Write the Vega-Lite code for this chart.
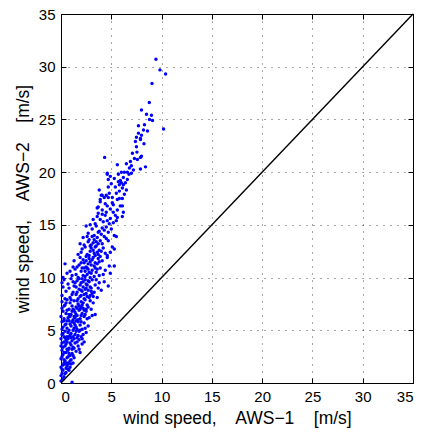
{
  "$schema": "https://vega.github.io/schema/vega-lite/v6.json",
  "autosize": {"type": "none"},
  "padding": {"left": 61, "top": 14, "right": 11, "bottom": 52},
  "width": 352,
  "height": 369,
  "background": "white",
  "config": {
    "view": {"stroke": "black", "strokeWidth": 1},
    "axis": {
      "labelFont": "Liberation Sans",
      "titleFont": "Liberation Sans",
      "labelFontSize": 15,
      "titleFontSize": 17.5,
      "titleFontWeight": "normal",
      "labelColor": "black",
      "titleColor": "black",
      "domainColor": "black",
      "tickColor": "black",
      "gridColor": "black",
      "gridDash": [1, 6],
      "gridOpacity": 0.7,
      "tickSize": -5,
      "labelPadding": 11
    }
  },
  "datasets": {
    "pts": [
      {"x":9.44,"y":30.7},{"x":9.84,"y":29.7},{"x":10.4,"y":29.3},{"x":9.05,"y":28.4},{"x":8.78,"y":26.6},{"x":8.0,"y":25.9},{"x":8.5,"y":25.5},{"x":9.0,"y":25.4},{"x":9.1,"y":24.9},{"x":7.7,"y":24.4},{"x":8.3,"y":24.5},{"x":10.2,"y":24.1},{"x":8.6,"y":23.9},{"x":7.7,"y":23.7},{"x":8.0,"y":23.5},{"x":7.5,"y":23.3},{"x":7.9,"y":23.2},{"x":7.9,"y":23.1},{"x":8.25,"y":22.7},{"x":7.5,"y":22.4},{"x":7.55,"y":21.9},{"x":4.34,"y":21.4},{"x":8.0,"y":21.5},{"x":7.3,"y":21.3},{"x":7.6,"y":21.2},{"x":7.9,"y":21.4},{"x":5.6,"y":20.7},{"x":7.0,"y":20.6},{"x":6.8,"y":20.4},{"x":8.4,"y":20.5},{"x":7.9,"y":20.3},{"x":7.2,"y":20.2},{"x":6.0,"y":20.0},{"x":6.3,"y":20.0},{"x":6.6,"y":20.0},{"x":5.7,"y":19.8},{"x":4.6,"y":19.8},{"x":6.76,"y":19.8},{"x":6.2,"y":19.5},{"x":5.9,"y":19.2},{"x":6.0,"y":19.0},{"x":6.4,"y":19.0},{"x":4.7,"y":19.3},{"x":5.4,"y":18.6},{"x":4.7,"y":18.6},{"x":6.1,"y":18.5},{"x":5.8,"y":18.2},{"x":6.5,"y":18.3},{"x":6.3,"y":17.9},{"x":4.1,"y":17.8},{"x":4.5,"y":17.8},{"x":4.7,"y":17.6},{"x":5.1,"y":17.6},{"x":6.1,"y":17.5},{"x":5.8,"y":17.5},{"x":5.6,"y":17.4},{"x":3.9,"y":17.4},{"x":6.1,"y":16.8},{"x":5.9,"y":16.8},{"x":4.6,"y":16.8},{"x":5.2,"y":16.2},{"x":5.4,"y":15.9},{"x":6.2,"y":16.2},{"x":4.5,"y":16.2},{"x":4.1,"y":16.0},{"x":4.6,"y":19.9},{"x":3.8,"y":18.3},{"x":4.0,"y":17.8},{"x":4.3,"y":17.6},{"x":3.9,"y":17.2},{"x":3.7,"y":16.7},{"x":4.1,"y":16.4},{"x":3.7,"y":16.1},{"x":4.8,"y":18.0},{"x":3.6,"y":16.6},
      {"x":4.9,"y":16.5},{"x":5.1,"y":17.1},{"x":5.6,"y":16.4},{"x":5.0,"y":18.9},{"x":5.3,"y":19.4},{"x":5.8,"y":18.8},{"x":6.2,"y":18.8},{"x":4.4,"y":17.0},{"x":5.5,"y":18.0},{"x":4.9,"y":19.6},{"x":6.6,"y":19.3},{"x":7.0,"y":19.9},{"x":5.2,"y":16.9},{"x":5.7,"y":19.1},{"x":6.9,"y":21.0},{"x":7.1,"y":21.8},{"x":6.5,"y":20.8},{"x":7.4,"y":22.9},{"x":8.2,"y":24.0},{"x":8.8,"y":25.0},
      {"x":2.7,"y":14.2},{"x":3.1,"y":14.6},{"x":3.4,"y":15.1},{"x":3.8,"y":14.4},{"x":4.2,"y":15.3},{"x":4.5,"y":14.8},{"x":4.9,"y":15.6},{"x":5.2,"y":15.2},{"x":5.6,"y":15.7},{"x":3.6,"y":15.8},{"x":4.0,"y":14.1},{"x":4.4,"y":15.9},{"x":2.9,"y":15.0},{"x":3.3,"y":14.0},{"x":4.7,"y":14.3},{"x":5.0,"y":14.6},{"x":3.9,"y":15.5},{"x":4.3,"y":14.5},{"x":5.5,"y":15.4},{"x":6.1,"y":15.8},{"x":3.5,"y":14.9},{"x":4.1,"y":14.7},{"x":2.5,"y":14.9},{"x":4.8,"y":15.1},{"x":3.7,"y":14.3},{"x":5.3,"y":14.0},{"x":4.6,"y":15.4},{"x":3.2,"y":15.5},
      {"x":2.0,"y":12.4},{"x":2.3,"y":13.1},{"x":2.6,"y":12.2},{"x":2.8,"y":13.6},{"x":3.0,"y":12.8},{"x":3.2,"y":13.3},{"x":3.4,"y":12.1},{"x":3.6,"y":13.8},{"x":3.8,"y":12.6},{"x":4.1,"y":13.2},{"x":4.4,"y":12.3},{"x":4.7,"y":13.5},{"x":5.1,"y":12.9},{"x":5.5,"y":13.9},{"x":2.4,"y":12.9},{"x":2.7,"y":13.4},{"x":2.9,"y":12.5},{"x":3.1,"y":13.9},{"x":3.3,"y":12.3},{"x":3.5,"y":13.0},{"x":3.7,"y":12.2},{"x":3.9,"y":13.5},{"x":4.2,"y":12.8},{"x":4.5,"y":13.7},{"x":2.2,"y":13.8},{"x":2.5,"y":12.0},{"x":3.0,"y":13.1},{"x":3.3,"y":13.6},{"x":3.6,"y":12.4},{"x":2.8,"y":12.1},{"x":3.9,"y":12.0},{"x":4.3,"y":13.9},{"x":4.9,"y":12.4},{"x":1.9,"y":13.2},{"x":2.6,"y":13.9},{"x":3.2,"y":12.6},{"x":3.5,"y":13.4},{"x":2.9,"y":13.0},{"x":4.0,"y":12.5},{"x":2.1,"y":12.7},{"x":3.7,"y":13.2},{"x":4.6,"y":12.1},{"x":5.3,"y":12.7},{"x":1.7,"y":12.2},{"x":3.4,"y":12.9},
      {"x":1.5,"y":10.3},{"x":1.8,"y":11.2},{"x":2.0,"y":10.6},{"x":2.2,"y":11.7},{"x":2.4,"y":10.1},{"x":2.5,"y":11.0},{"x":2.7,"y":10.8},{"x":2.9,"y":11.5},{"x":3.0,"y":10.4},{"x":3.2,"y":11.9},{"x":3.4,"y":10.9},{"x":3.6,"y":11.3},{"x":3.8,"y":10.2},{"x":4.1,"y":11.6},{"x":4.4,"y":10.7},{"x":4.8,"y":11.1},{"x":5.3,"y":11.1},{"x":1.3,"y":11.6},{"x":1.7,"y":10.0},{"x":2.1,"y":10.9},{"x":2.3,"y":11.4},{"x":2.6,"y":10.3},{"x":2.8,"y":11.8},{"x":3.1,"y":10.7},{"x":3.3,"y":11.1},{"x":3.5,"y":10.5},{"x":3.7,"y":11.8},{"x":3.9,"y":10.9},{"x":4.2,"y":10.3},{"x":4.6,"y":11.9},{"x":0.2,"y":10.0},{"x":0.4,"y":11.3},{"x":0.9,"y":10.6},{"x":1.1,"y":10.2},{"x":1.6,"y":11.0},{"x":1.9,"y":11.9},{"x":2.2,"y":10.2},{"x":2.5,"y":11.6},{"x":2.8,"y":10.5},{"x":3.0,"y":11.2},{"x":3.3,"y":10.1},{"x":3.6,"y":10.8},{"x":2.0,"y":11.4},{"x":2.7,"y":11.3},{"x":3.1,"y":11.7},{"x":2.4,"y":10.6},{"x":1.4,"y":10.8},{"x":3.8,"y":11.5},{"x":4.9,"y":10.4},{"x":2.9,"y":10.0},{"x":2.3,"y":10.9},{"x":1.2,"y":11.0},{"x":3.4,"y":11.4},{"x":2.6,"y":10.9},{"x":0.6,"y":10.4},
      {"x":0.1,"y":8.3},{"x":0.2,"y":9.1},{"x":0.3,"y":9.8},{"x":0.1,"y":9.5},{"x":0.5,"y":8.7},{"x":0.7,"y":9.4},{"x":0.9,"y":8.1},{"x":1.0,"y":9.9},{"x":1.2,"y":8.6},{"x":1.3,"y":9.2},{"x":1.5,"y":8.4},{"x":1.6,"y":9.7},{"x":1.8,"y":8.9},{"x":1.9,"y":8.2},{"x":2.0,"y":9.5},{"x":2.1,"y":8.7},{"x":2.2,"y":9.1},{"x":2.3,"y":8.0},{"x":2.4,"y":9.8},{"x":2.5,"y":8.5},{"x":2.6,"y":9.3},{"x":2.7,"y":8.8},{"x":2.8,"y":9.6},{"x":2.9,"y":8.3},{"x":3.0,"y":9.0},{"x":3.1,"y":9.8},{"x":3.3,"y":8.6},{"x":3.4,"y":9.3},{"x":3.6,"y":8.1},{"x":3.8,"y":9.5},{"x":4.0,"y":8.8},{"x":4.3,"y":9.6},{"x":4.7,"y":9.2},{"x":1.1,"y":8.4},{"x":1.4,"y":9.5},{"x":1.7,"y":8.0},{"x":1.9,"y":9.3},{"x":2.1,"y":9.9},{"x":2.3,"y":8.4},{"x":2.5,"y":9.0},{"x":2.7,"y":9.7},{"x":2.9,"y":9.1},{"x":3.2,"y":8.2},{"x":3.5,"y":9.8},{"x":1.6,"y":8.6},{"x":2.0,"y":8.3},{"x":2.4,"y":8.9},{"x":2.8,"y":8.1},{"x":3.1,"y":8.5},{"x":0.4,"y":8.0},{"x":0.8,"y":9.0},{"x":1.5,"y":9.1},{"x":2.2,"y":9.6},{"x":2.6,"y":8.2},{"x":3.0,"y":8.7},{"x":3.7,"y":9.0},{"x":1.2,"y":9.6},{"x":1.8,"y":9.9},{"x":2.0,"y":8.8},{"x":2.5,"y":9.4},
      {"x":0.0,"y":6.3},{"x":0.1,"y":7.1},{"x":0.2,"y":6.8},{"x":0.1,"y":7.7},{"x":0.3,"y":6.1},{"x":0.4,"y":7.4},{"x":0.5,"y":6.6},{"x":0.6,"y":7.9},{"x":0.7,"y":6.2},{"x":0.8,"y":7.0},{"x":0.9,"y":7.6},{"x":1.0,"y":6.5},{"x":1.1,"y":7.3},{"x":1.2,"y":6.0},{"x":1.3,"y":7.8},{"x":1.4,"y":6.7},{"x":1.5,"y":7.2},{"x":1.6,"y":6.4},{"x":1.7,"y":7.5},{"x":1.8,"y":6.9},{"x":1.9,"y":6.1},{"x":2.0,"y":7.7},{"x":2.1,"y":6.6},{"x":2.2,"y":7.1},{"x":2.3,"y":6.3},{"x":2.4,"y":7.9},{"x":2.5,"y":6.8},{"x":2.6,"y":7.4},{"x":2.8,"y":6.2},{"x":3.0,"y":7.0},{"x":3.2,"y":7.6},{"x":3.4,"y":6.5},{"x":1.0,"y":7.9},{"x":1.2,"y":7.0},{"x":1.4,"y":6.2},{"x":1.6,"y":7.8},{"x":1.8,"y":7.3},{"x":2.0,"y":6.4},{"x":2.2,"y":7.6},{"x":2.4,"y":6.5},{"x":2.7,"y":7.2},{"x":2.9,"y":7.8},{"x":0.6,"y":6.9},{"x":0.9,"y":6.3},{"x":1.3,"y":6.9},{"x":1.7,"y":6.0},{"x":2.1,"y":7.4},{"x":2.5,"y":7.0},{"x":3.1,"y":6.4},{"x":0.3,"y":7.3},{"x":0.8,"y":6.5},{"x":1.1,"y":6.8},{"x":1.5,"y":6.5},{"x":1.9,"y":7.0},{"x":2.3,"y":6.9},{"x":1.6,"y":7.1},{"x":2.6,"y":6.1},{"x":1.3,"y":6.3},{"x":0.5,"y":7.6},{"x":2.0,"y":7.2},
      {"x":0.0,"y":4.2},{"x":0.1,"y":5.1},{"x":0.2,"y":4.7},{"x":0.1,"y":5.8},{"x":0.3,"y":4.4},{"x":0.4,"y":5.5},{"x":0.5,"y":4.1},{"x":0.6,"y":5.2},{"x":0.7,"y":4.8},{"x":0.8,"y":5.9},{"x":0.9,"y":4.5},{"x":1.0,"y":5.4},{"x":1.1,"y":4.0},{"x":1.2,"y":5.0},{"x":1.3,"y":5.7},{"x":1.4,"y":4.6},{"x":1.5,"y":5.3},{"x":1.6,"y":4.3},{"x":1.7,"y":5.8},{"x":1.8,"y":4.9},{"x":1.9,"y":5.5},{"x":2.0,"y":4.4},{"x":2.1,"y":5.1},{"x":2.3,"y":5.7},{"x":2.5,"y":4.8},{"x":2.7,"y":5.4},{"x":0.2,"y":5.3},{"x":0.4,"y":4.9},{"x":0.6,"y":4.4},{"x":0.8,"y":5.0},{"x":1.0,"y":4.7},{"x":1.1,"y":5.8},{"x":1.3,"y":4.2},{"x":1.5,"y":4.9},{"x":1.7,"y":4.5},{"x":1.9,"y":5.0},{"x":2.2,"y":4.6},{"x":0.3,"y":5.9},{"x":0.5,"y":5.6},{"x":0.7,"y":4.2},{"x":0.9,"y":5.6},{"x":1.2,"y":4.4},{"x":1.4,"y":5.5},{"x":1.6,"y":5.1},{"x":1.8,"y":4.1},{"x":2.0,"y":5.8},{"x":2.4,"y":5.2},{"x":0.1,"y":4.6},{"x":0.6,"y":5.9},{"x":1.0,"y":4.3},{"x":1.5,"y":5.9},{"x":0.8,"y":4.4},{"x":1.3,"y":5.2},{"x":2.1,"y":4.2},{"x":0.4,"y":4.3},
      {"x":0.0,"y":2.3},{"x":0.1,"y":3.1},{"x":0.2,"y":2.7},{"x":0.1,"y":3.8},{"x":0.3,"y":2.2},{"x":0.4,"y":3.5},{"x":0.5,"y":2.9},{"x":0.6,"y":3.9},{"x":0.7,"y":2.5},{"x":0.8,"y":3.3},{"x":0.9,"y":2.1},{"x":1.0,"y":3.6},{"x":1.1,"y":2.8},{"x":1.2,"y":3.4},{"x":1.3,"y":2.4},{"x":1.4,"y":3.8},{"x":1.5,"y":3.0},{"x":1.7,"y":3.5},{"x":1.9,"y":2.9},{"x":2.1,"y":3.7},{"x":0.2,"y":3.4},{"x":0.3,"y":2.9},{"x":0.5,"y":3.7},{"x":0.6,"y":2.4},{"x":0.8,"y":2.8},{"x":0.9,"y":3.8},{"x":1.1,"y":3.2},{"x":1.2,"y":2.6},{"x":1.6,"y":3.9},{"x":0.0,"y":3.5},{"x":0.4,"y":2.1},{"x":0.7,"y":3.1},{"x":1.0,"y":2.2},{"x":1.3,"y":3.3},{"x":0.3,"y":3.9},{"x":0.6,"y":3.2},{"x":1.8,"y":3.2},{"x":2.3,"y":3.9},{"x":0.9,"y":2.6},{"x":0.1,"y":2.5},
      {"x":0.0,"y":0.2},{"x":0.1,"y":0.9},{"x":0.0,"y":1.5},{"x":0.2,"y":1.2},{"x":0.3,"y":0.6},{"x":0.4,"y":1.8},{"x":0.5,"y":1.0},{"x":0.6,"y":1.6},{"x":0.7,"y":1.3},{"x":0.8,"y":1.9},{"x":0.9,"y":1.5},{"x":1.0,"y":1.8},{"x":0.2,"y":1.7},{"x":0.3,"y":1.9},{"x":0.1,"y":1.3},{"x":0.5,"y":1.4},{"x":0.4,"y":0.9},{"x":0.6,"y":1.9},{"x":0.0,"y":0.7},{"x":1.1,"y":0.07},{"x":0.8,"y":1.2},{"x":0.2,"y":0.4},{"x":0.7,"y":1.8},{"x":1.2,"y":1.9}
    ],
    "diag": [{"x": 0, "y": 0}, {"x": 35, "y": 35}]
  },
  "layer": [
    {
      "data": {"name": "pts"},
      "mark": {"type": "point", "filled": true, "shape": "circle", "size": 12, "color": "#0000ff", "opacity": 1},
      "encoding": {
        "x": {"field": "x", "type": "quantitative", "scale": {"domain": [0, 35], "nice": false},
          "axis": {"orient": "bottom", "values": [0,5,10,15,20,25,30,35], "title": "wind speed,\u00a0 \u00a0 AWS\u22121\u00a0 \u00a0 [m/s]", "grid": true, "titlePadding": 5}},
        "y": {"field": "y", "type": "quantitative", "scale": {"domain": [0, 35], "nice": false},
          "axis": {"orient": "left", "values": [0,5,10,15,20,25,30,35], "title": "wind speed,\u00a0 \u00a0 AWS\u22122\u00a0 \u00a0 [m/s]", "grid": true, "titlePadding": 6}}
      }
    },
    {
      "data": {"name": "diag"},
      "mark": {"type": "line", "color": "black", "strokeWidth": 1.4},
      "encoding": {
        "x": {"field": "x", "type": "quantitative", "scale": {"domain": [0, 35], "nice": false},
          "axis": {"orient": "top", "values": [0,5,10,15,20,25,30,35], "labels": false, "title": null, "grid": false}},
        "y": {"field": "y", "type": "quantitative", "scale": {"domain": [0, 35], "nice": false},
          "axis": {"orient": "right", "values": [0,5,10,15,20,25,30,35], "labels": false, "title": null, "grid": false}}
      }
    }
  ],
  "resolve": {"axis": {"x": "independent", "y": "independent"}}
}
